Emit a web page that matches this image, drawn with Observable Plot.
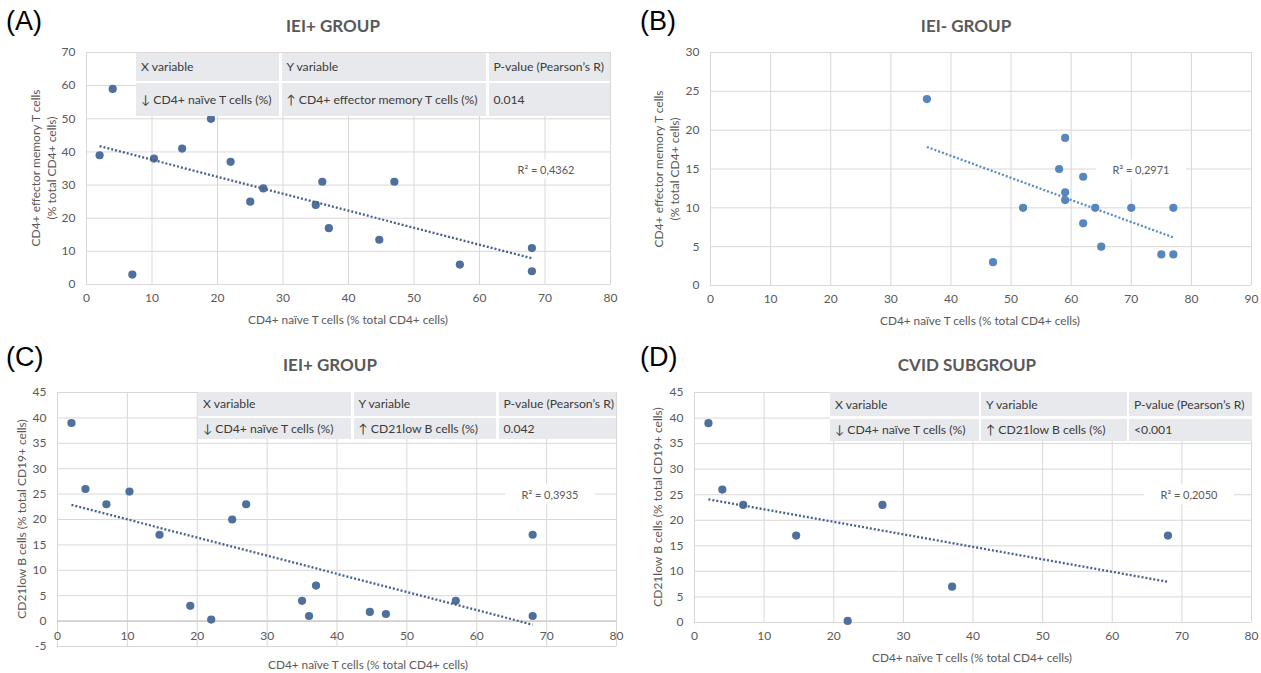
<!DOCTYPE html>
<html><head><meta charset="utf-8">
<script src="https://cdn.jsdelivr.net/npm/d3@7"></script>
<script src="https://cdn.jsdelivr.net/npm/@observablehq/plot@0.6"></script>
<style>
body{margin:0;background:#fff;}
#root{position:relative;width:1261px;height:673px;overflow:hidden;font-family:Lato,"Open Sans",sans-serif;}
.abs{position:absolute;}
.letter{font-family:"Liberation Sans",Arial,sans-serif;font-size:27px;color:#000;line-height:27px;white-space:nowrap;}
.title{font-weight:700;font-size:17px;color:#595959;transform:translate(-50%,-50%);white-space:nowrap;}
.xtitle{font-size:11.8px;color:#595959;transform:translate(-50%,-50%);white-space:nowrap;}
.ytitle{font-size:12px;color:#595959;transform:translate(-50%,-50%) rotate(-90deg);white-space:nowrap;text-align:center;line-height:16px;}
.r2{font-size:11px;color:#595959;background:#fff;transform:translate(-50%,-50%);white-space:nowrap;text-align:center;padding:3px 0;}
.tbl{display:grid;gap:2.5px;background:#fff;}
.cell{background:#e8e9ed;color:#3b3b3b;font-size:12.2px;display:flex;align-items:center;padding-left:5px;white-space:nowrap;overflow:hidden;}
</style></head><body><div id="root"></div>
<script>
// ---------- data ----------
const naiveA = [2, 4, 7, 10.3, 14.6, 19, 22, 25, 27, 35, 36, 37, 44.7, 47, 57, 68, 68];
const effMemA = [39, 59, 3, 38, 41, 50, 37, 25, 29, 24, 31, 17, 13.5, 31, 6, 11, 4];

const naiveB = [36, 59, 58, 62, 59, 59, 52, 64, 70, 77, 62, 65, 75, 77, 47];
const effMemB = [24, 19, 15, 14, 12, 11, 10, 10, 10, 10, 8, 5, 4, 4, 3];

const naiveC = [2, 4, 7, 10.3, 14.6, 19, 22, 25, 27, 35, 36, 37, 44.7, 47, 57, 68, 68];
const cd21C = [39, 26, 23, 25.5, 17, 3, 0.3, 20, 23, 4, 1, 7, 1.8, 1.4, 4, 17, 1];

const naiveD = [2, 4, 7, 14.6, 22, 27, 37, 68];
const cd21D = [39, 26, 23, 17, 0.3, 23, 7, 17];

const xTicks80 = [0, 10, 20, 30, 40, 50, 60, 70, 80];
const xTicks90 = [0, 10, 20, 30, 40, 50, 60, 70, 80, 90];
const yTicksA = [0, 10, 20, 30, 40, 50, 60, 70];
const yTicksB = [0, 5, 10, 15, 20, 25, 30];
const yTicksC = [-5, 0, 5, 10, 15, 20, 25, 30, 35, 40, 45];
const yTicksD = [0, 5, 10, 15, 20, 25, 30, 35, 40, 45];

const letters = ["(A)", "(B)", "(C)", "(D)"];
const titles = ["IEI+ GROUP", "IEI- GROUP", "IEI+ GROUP", "CVID SUBGROUP"];
const xTitle = "CD4+ naïve T cells (% total CD4+ cells)";
const yTitleEM = ["CD4+ effector memory T cells", "(% total CD4+ cells)"];
const yTitleCD21 = "CD21low B cells (% total CD19+ cells)";
const r2Labels = ["R² = 0,4362", "R² = 0,2971", "R² = 0,3935", "R² = 0,2050"];
const tableHeader = ["X variable", "Y variable", "P-value (Pearson’s R)"];
const tableRowA = ["↓ CD4+ naïve T cells (%)", "↑ CD4+ effector memory T cells (%)", "0.014"];
const tableRowC = ["↓ CD4+ naïve T cells (%)", "↑ CD21low B cells (%)", "0.042"];
const tableRowD = ["↓ CD4+ naïve T cells (%)", "↑ CD21low B cells (%)", "<0.001"];

// ---------- helpers ----------
const GRID = "#dbd7d7";
const root = document.getElementById("root");

function regLine(xs, ys) {
  const mx = d3.mean(xs), my = d3.mean(ys);
  const sxy = d3.sum(xs, (x, i) => (x - mx) * (ys[i] - my));
  const sxx = d3.sum(xs, x => (x - mx) ** 2);
  const b = sxy / sxx, a = my - b * mx;
  const [x0, x1] = d3.extent(xs);
  return [{x: x0, y: a + b * x0}, {x: x1, y: a + b * x1}];
}

function addEl(cls, html, left, top, extra) {
  const d = document.createElement("div");
  d.className = "abs " + cls;
  d.innerHTML = html;
  d.style.left = left + "px";
  d.style.top = top + "px";
  if (extra) Object.assign(d.style, extra);
  root.appendChild(d);
  return d;
}

function esc(s) { return s.replace(/&/g, "&amp;").replace(/</g, "&lt;").replace(/>/g, "&gt;"); }

function panel(cfg) {
  const pts = cfg.xs.map((x, i) => ({x, y: cfg.ys[i]}));
  const marks = [
    Plot.gridX(cfg.xTicks, {stroke: GRID, strokeOpacity: 1, strokeWidth: 1}),
    Plot.gridY(cfg.yTicks, {stroke: GRID, strokeOpacity: 1, strokeWidth: 1}),
    Plot.axisY(cfg.yTicks, {tickSize: 0, tickPadding: 11, tickFormat: d => String(d), label: null, fontSize: 12})
  ];
  if (cfg.zeroAxis) {
    marks.push(Plot.ruleY([0], {stroke: "#cbc6c6", strokeWidth: 1.3}));
    marks.push(Plot.text(cfg.xTicks, {x: d => d, y: 0, text: d => String(d), dy: 15, fontSize: 12, fill: "#595959"}));
  } else {
    marks.push(Plot.axisX(cfg.xTicks, {tickSize: 0, tickPadding: 9, tickFormat: d => String(d), label: null, fontSize: 12}));
  }
  marks.push(Plot.dot(pts, {x: "x", y: "y", r: 4.1, fill: cfg.dotColor, stroke: "none"}));
  marks.push(Plot.line(regLine(cfg.xs, cfg.ys), {x: "x", y: "y", stroke: cfg.lineColor, strokeWidth: 2.3, strokeDasharray: "2,2", strokeLinecap: "butt"}));

  const chart = Plot.plot({
    width: cfg.w, height: cfg.h,
    marginLeft: cfg.ml, marginRight: cfg.mr, marginTop: cfg.mt, marginBottom: cfg.mb,
    x: {domain: cfg.xDomain, axis: null},
    y: {domain: cfg.yDomain, axis: null},
    style: {fontFamily: "Lato, 'Open Sans', sans-serif", fontSize: "12px", color: "#595959", background: "transparent", overflow: "visible"},
    marks
  });
  const wrap = document.createElement("div");
  wrap.className = "abs";
  wrap.style.left = cfg.left + "px";
  wrap.style.top = cfg.top + "px";
  wrap.appendChild(chart);
  root.appendChild(wrap);
}

function table(left, top, cols, rows, header, row) {
  const t = document.createElement("div");
  t.className = "abs tbl";
  t.style.left = left + "px";
  t.style.top = top + "px";
  t.style.gridTemplateColumns = cols.map(c => c + "px").join(" ");
  t.style.gridTemplateRows = rows.map(r => r + "px").join(" ");
  [...header, ...row].forEach(s => {
    const c = document.createElement("div");
    c.className = "cell";
    c.textContent = s;
    t.appendChild(c);
  });
  root.appendChild(t);
}

// ---------- panels ----------
panel({left: 0, top: 0, w: 630, h: 336, ml: 86, mr: 20, mt: 52, mb: 52,
  xDomain: [0, 80], yDomain: [0, 70], xTicks: xTicks80, yTicks: yTicksA,
  xs: naiveA, ys: effMemA, dotColor: "#4f6f9d", lineColor: "#44618b"});
panel({left: 630, top: 0, w: 631, h: 336, ml: 80, mr: 10, mt: 52, mb: 51,
  xDomain: [0, 90], yDomain: [0, 30], xTicks: xTicks90, yTicks: yTicksB,
  xs: naiveB, ys: effMemB, dotColor: "#5786bd", lineColor: "#5b8ac4"});
panel({left: 0, top: 337, w: 630, h: 336, ml: 57, mr: 14, mt: 55, mb: 27,
  xDomain: [0, 80], yDomain: [-5, 45], xTicks: xTicks80, yTicks: yTicksC, zeroAxis: true,
  xs: naiveC, ys: cd21C, dotColor: "#4f6f9d", lineColor: "#44618b"});
panel({left: 630, top: 337, w: 631, h: 336, ml: 64, mr: 10, mt: 55, mb: 51,
  xDomain: [0, 80], yDomain: [0, 45], xTicks: xTicks80, yTicks: yTicksD,
  xs: naiveD, ys: cd21D, dotColor: "#4f6f9d", lineColor: "#44618b"});

// ---------- tables ----------
table(136, 53, [143, 204.5, 121.5], [27.5, 33], tableHeader, tableRowA);
table(198, 392, [153, 142.5, 117.5], [23.7, 21.3], tableHeader, tableRowC);
table(830, 392, [148.5, 145.5, 123], [24.3, 22], tableHeader, tableRowD);

// ---------- texts ----------
addEl("letter", letters[0], 6, 8);
addEl("letter", letters[1], 640, 8);
addEl("letter", letters[2], 6, 344);
addEl("letter", letters[3], 640, 344);

addEl("title", esc(titles[0]), 333, 25);
addEl("title", esc(titles[1]), 966, 25);
addEl("title", esc(titles[2]), 330, 364);
addEl("title", esc(titles[3]), 967, 364);

addEl("xtitle", esc(xTitle), 348, 319);
addEl("xtitle", esc(xTitle), 980, 320);
addEl("xtitle", esc(xTitle), 368, 664);
addEl("xtitle", esc(xTitle), 972, 657);

addEl("ytitle", yTitleEM.map(esc).join("<br>"), 43.6, 168);
addEl("ytitle", yTitleEM.map(esc).join("<br>"), 667, 169);
addEl("ytitle", esc(yTitleCD21), 22, 519);
addEl("ytitle", esc(yTitleCD21), 658, 507);

addEl("r2", esc(r2Labels[0]), 546, 169, {width: "90px"});
addEl("r2", esc(r2Labels[1]), 1141, 169, {width: "90px"});
addEl("r2", esc(r2Labels[2]), 550, 494, {width: "90px"});
addEl("r2", esc(r2Labels[3]), 1189, 494, {width: "90px"});
</script></body></html>
